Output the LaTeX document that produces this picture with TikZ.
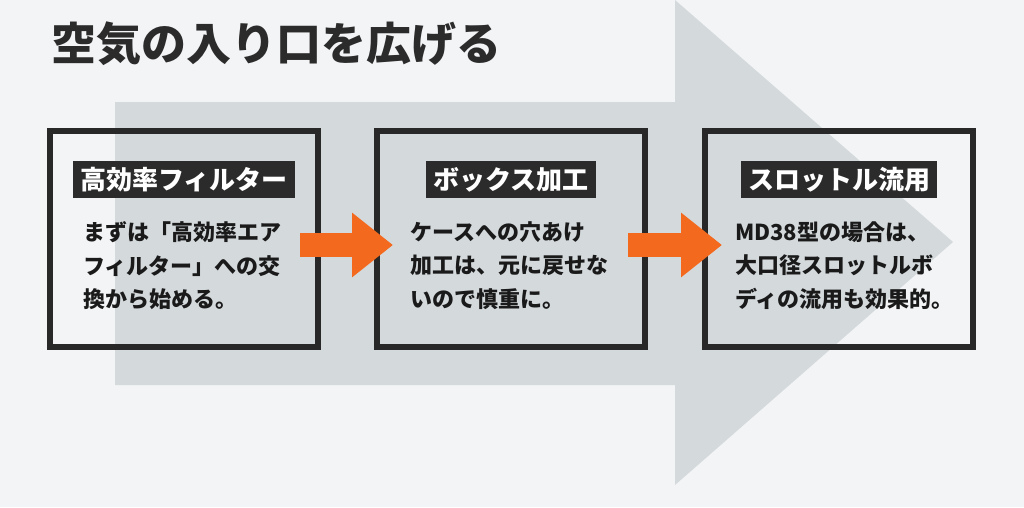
\documentclass[tikz,border=0pt]{standalone}
\usepackage{fontspec}
\setmainfont{Noto Sans CJK JP}
\usetikzlibrary{arrows.meta,positioning,calc}

\begin{document}
\begin{tikzpicture}[x=1pt, y=-1pt,
        stepframe/.style={draw=framedark, line width=6pt, outer sep=0pt, minimum width=268pt, minimum height=216pt},
        steptag/.style={fill=tagdark, text=white, inner xsep=7pt, inner ysep=0pt, minimum height=37pt, font=\fontsize{26}{30}\selectfont\bfseries},
        steptext/.style={anchor=north west, inner sep=0pt, align=left, text=textdark, font=\fontsize{22}{33.5}\selectfont\bfseries},
        flowarrow/.style={draw=airorange, line width=24pt, -{Triangle[length=41pt,width=62pt]}}]
        \definecolor{pagebg}{RGB}{243,244,246}
        \definecolor{arrowgray}{RGB}{212,217,220}
        \definecolor{framedark}{RGB}{40,40,40}
        \definecolor{tagdark}{RGB}{43,43,43}
        \definecolor{textdark}{RGB}{26,26,26}
        \definecolor{airorange}{RGB}{243,106,30}

        % Page background
        \fill[pagebg] (0,0) rectangle (1024,507);

        % Big gray arrow behind the steps
        \fill[arrowgray] (115,102) -- (675,102) -- (675,0) -- (953,242) -- (675,485) -- (675,385) -- (115,385) -- cycle;

        % Title
        \node[anchor=west, inner sep=0pt, text=tagdark, font=\fontsize{45}{54}\selectfont\bfseries] (title) at (51,44) {空気の入り口を広げる};

        % Step frames
        \node[stepframe] (filter) at (184,239) {};
        \node[stepframe] (boxcut) at (511,239) {};
        \node[stepframe] (throttle) at (839,239) {};

        % Step headings
        \node[steptag, below=30pt of filter.north] (filtertag) {高効率フィルター};
        \node[steptag, below=30pt of boxcut.north] (boxcuttag) {ボックス加工};
        \node[steptag, below=30pt of throttle.north] (throttletag) {スロットル流用};

        % Step texts
        \node[steptext] (filtertext) at ([xshift=33pt,yshift=-23pt]filter.west |- filtertag.south) {まずは「高効率エア\\フィルター」への交\\換から始める。};
        \node[steptext] (boxcuttext) at ([xshift=33pt,yshift=-23pt]boxcut.west |- boxcuttag.south) {ケースへの穴あけ\\加工は、元に戻せな\\いので慎重に。};
        \node[steptext] (throttletext) at ([xshift=30pt,yshift=-23pt]throttle.west |- throttletag.south) {MD38型の場合は、\\大口径スロットルボ\\ディの流用も効果的。};

        % Orange arrows between steps
        \draw[flowarrow] ([shift={(-18,6)}]filter.east) -- ([shift={(16,6)}]boxcut.west);
        \draw[flowarrow] ([shift={(-17,6)}]boxcut.east) -- ([shift={(17,6)}]throttle.west);
    \end{tikzpicture}
\end{document}
